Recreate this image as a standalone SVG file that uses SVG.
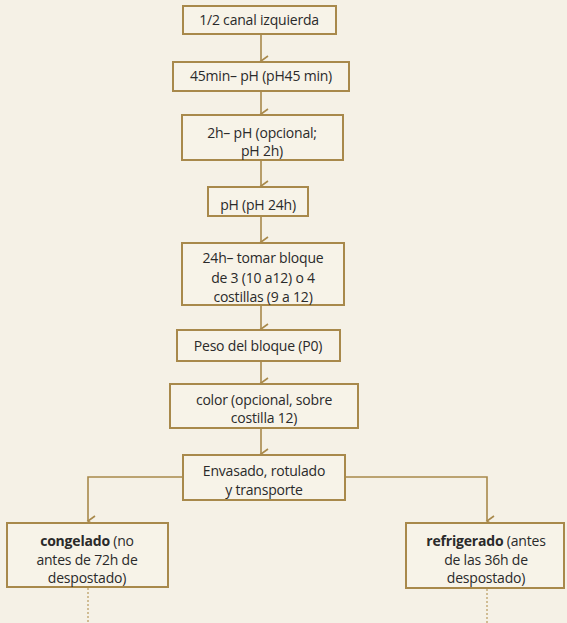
<svg xmlns="http://www.w3.org/2000/svg" width="567" height="623" viewBox="0 0 567 623">
<style>
.bg{fill:#f5f1e6}
.box{fill:#f7f3e8;stroke:#a8894b;stroke-width:2}
.ln{fill:none;stroke:#a8894b;stroke-width:1.6}
.dash{fill:none;stroke:#b89a5e;stroke-width:1.2;stroke-dasharray:2 2}
text{font-family:"Open Sans","Noto Sans",sans-serif;font-size:14px;fill:#2a2a2a;text-anchor:middle;letter-spacing:-0.2px}
.b{font-weight:bold}
</style>
<defs>
<marker id="ah" markerWidth="12" markerHeight="10" refX="6" refY="8" orient="auto-start-reverse" markerUnits="userSpaceOnUse" viewBox="0 0 12 10">
<polyline points="1,1 6,8 11,1" fill="none" stroke="#a8894b" stroke-width="1.6"/>
</marker>
</defs>
<rect class="bg" x="0" y="0" width="567" height="623"/>
<g id="connectors">
<line class="ln" x1="261" y1="35" x2="261" y2="61" marker-end="url(#ah)"/>
<line class="ln" x1="261" y1="91" x2="261" y2="114" marker-end="url(#ah)"/>
<line class="ln" x1="261" y1="160" x2="261" y2="186" marker-end="url(#ah)"/>
<line class="ln" x1="261" y1="217" x2="261" y2="242" marker-end="url(#ah)"/>
<line class="ln" x1="261" y1="306" x2="261" y2="329" marker-end="url(#ah)"/>
<line class="ln" x1="261" y1="362" x2="261" y2="383" marker-end="url(#ah)"/>
<line class="ln" x1="261" y1="429" x2="261" y2="454" marker-end="url(#ah)"/>
<polyline class="ln" points="183,477 88,477 88,521" marker-end="url(#ah)"/>
<polyline class="ln" points="345,477 487,477 487,521" marker-end="url(#ah)"/>
<line class="dash" x1="88" y1="588" x2="88" y2="623"/>
<line class="dash" x1="487" y1="589" x2="487" y2="623"/>
</g>
<g id="n1"><rect class="box" x="183" y="6" width="153" height="28"/><text x="259" y="25">1/2 canal izquierda</text></g>
<g id="n2"><rect class="box" x="173" y="62" width="176" height="29"/><text x="261" y="81">45min– pH (pH45 min)</text></g>
<g id="n3"><rect class="box" x="182" y="115" width="161" height="45"/><text x="262" y="138">2h– pH (opcional;</text><text x="262" y="156">pH 2h)</text></g>
<g id="n4"><rect class="box" x="208" y="187" width="100" height="29"/><text x="258" y="210">pH (pH 24h)</text></g>
<g id="n5"><rect class="box" x="182" y="243" width="162" height="62"/><text x="263" y="263">24h– tomar bloque</text><text x="263" y="283">de 3 (10 a12) o 4</text><text x="263" y="302">costillas (9 a 12)</text></g>
<g id="n6"><rect class="box" x="177" y="330" width="163" height="31"/><text x="258" y="351">Peso del bloque (P0)</text></g>
<g id="n7"><rect class="box" x="170" y="384" width="188" height="44"/><text x="264" y="405">color (opcional, sobre</text><text x="264" y="423">costilla 12)</text></g>
<g id="n8"><rect class="box" x="183" y="455" width="162" height="45"/><text x="264" y="476">Envasado, rotulado</text><text x="264" y="495">y transporte</text></g>
<g id="n9"><rect class="box" x="7" y="523" width="161" height="64"/><text x="87" y="546"><tspan class="b">congelado</tspan> (no</text><text x="87" y="565">antes de 72h de</text><text x="87" y="583">despostado)</text></g>
<g id="n10"><rect class="box" x="406" y="523" width="158" height="65"/><text x="486" y="546"><tspan class="b">refrigerado</tspan> (antes</text><text x="486" y="565">de las 36h de</text><text x="486" y="583">despostado)</text></g>
</svg>
